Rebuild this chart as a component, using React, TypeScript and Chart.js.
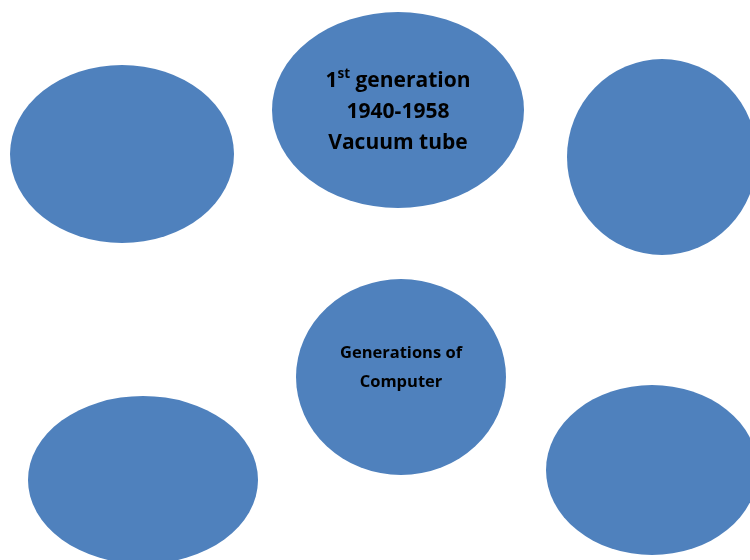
import React, { useEffect, useRef } from "react";
import { Chart, registerables } from "chart.js";

Chart.register(...registerables);

// Diagram nodes (data units = canvas pixels of a 750x560 plane)
const nodeNames = ["left-top", "top", "right-top", "center", "left-bottom", "right-bottom"];
const centerX = [122, 398, 662, 401, 143, 652];
const centerY = [154, 110, 157, 377, 480, 470];
const radiusX = [112, 126, 95, 105, 115, 106];
const radiusY = [89, 98, 98, 98, 84, 85];

// Labels
const topLabelLine1 = ["1", "st", " generation"];
const topLabelLines = ["1940-1958", "Vacuum tube"];
const centerLabelLines = ["Generations of", "Computer"];

const FILL = "#4f81bd";
const FONT = "'Open Sans', Lato, sans-serif";

const ellipsePlugin = {
  id: "ellipses",
  beforeDatasetsDraw(chart: any) {
    const { ctx, scales } = chart;
    const xs = scales.x;
    const ys = scales.y;
    ctx.save();
    ctx.fillStyle = FILL;
    for (let i = 0; i < nodeNames.length; i++) {
      const px = xs.getPixelForValue(centerX[i]);
      const py = ys.getPixelForValue(centerY[i]);
      const rx = Math.abs(xs.getPixelForValue(centerX[i] + radiusX[i]) - px);
      const ry = Math.abs(ys.getPixelForValue(centerY[i] + radiusY[i]) - py);
      ctx.beginPath();
      ctx.ellipse(px, py, rx, ry, 0, 0, Math.PI * 2);
      ctx.fill();
    }
    ctx.restore();
  },
  afterDatasetsDraw(chart: any) {
    const { ctx, scales } = chart;
    const xs = scales.x;
    const ys = scales.y;
    ctx.save();
    ctx.fillStyle = "#000000";
    ctx.textBaseline = "alphabetic";

    // Top node label
    const tx = xs.getPixelForValue(centerX[1]);
    const ty = ys.getPixelForValue(centerY[1]);
    const big = `bold 21px ${FONT}`;
    const small = `bold 13.5px ${FONT}`;
    ctx.font = big;
    const w1 = ctx.measureText(topLabelLine1[0]).width;
    const w3 = ctx.measureText(topLabelLine1[2]).width;
    ctx.font = small;
    const w2 = ctx.measureText(topLabelLine1[1]).width;
    const total = w1 + w2 + w3;
    const x0 = tx - total / 2;
    const b1 = ty - 23;
    ctx.textAlign = "left";
    ctx.font = big;
    ctx.fillText(topLabelLine1[0], x0, b1);
    ctx.font = small;
    ctx.fillText(topLabelLine1[1], x0 + w1, b1 - 9);
    ctx.font = big;
    ctx.fillText(topLabelLine1[2], x0 + w1 + w2, b1);
    ctx.textAlign = "center";
    topLabelLines.forEach((t, k) => {
      ctx.fillText(t, tx, b1 + 31 * (k + 1));
    });

    // Center node label
    const cx = xs.getPixelForValue(centerX[3]);
    const cy = ys.getPixelForValue(centerY[3]);
    ctx.font = `bold 16.5px ${FONT}`;
    centerLabelLines.forEach((t, k) => {
      ctx.fillText(t, cx, cy - 19 + 29 * k);
    });
    ctx.restore();
  },
};

export default function App() {
  const ref = useRef<HTMLCanvasElement | null>(null);
  useEffect(() => {
    document.body.style.margin = "0";
    const canvas = ref.current;
    if (!canvas) return;
    const chart = new Chart(canvas, {
      type: "scatter",
      data: {
        datasets: [
          {
            label: "nodes",
            data: centerX.map((x, i) => ({ x, y: centerY[i] })),
            pointRadius: 0,
            pointHoverRadius: 0,
            showLine: false,
          },
        ],
      },
      options: {
        responsive: false,
        animation: false,
        layout: { padding: 0 },
        events: [],
        plugins: {
          legend: { display: false },
          tooltip: { enabled: false },
          title: { display: false },
        },
        scales: {
          x: { type: "linear", min: 0, max: 750, display: false },
          y: { type: "linear", min: 0, max: 560, reverse: true, display: false },
        },
      },
      plugins: [ellipsePlugin],
    });
    return () => chart.destroy();
  }, []);
  return (
    <div style={{ width: 750, height: 560, background: "#ffffff" }}>
      <canvas ref={ref} width={750} height={560} style={{ display: "block" }} />
    </div>
  );
}
